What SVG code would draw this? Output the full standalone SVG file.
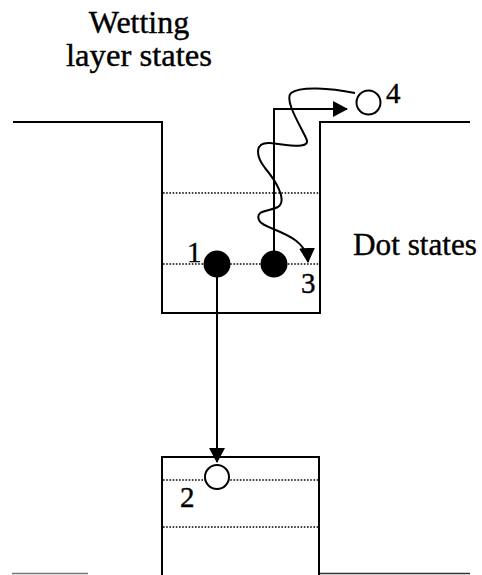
<svg xmlns="http://www.w3.org/2000/svg" width="482" height="575" viewBox="0 0 482 575">
<style>
.wall{fill:none;stroke:#000;stroke-width:2}
.lvl{stroke:#000;stroke-width:1.6;stroke-dasharray:1.6 1.6}
.t{font-family:"Liberation Serif","Times New Roman","DejaVu Serif",serif;font-size:29px;fill:#000;stroke:#000;stroke-width:0.4}
.big{font-size:32px}
.full{fill:#000}
.empty{fill:#fff;stroke:#000;stroke-width:2}
.conn{fill:none;stroke:#000;stroke-width:2}
</style>
<defs>
<marker id="ah" viewBox="0 0 15 16" refX="14" refY="8" markerWidth="15" markerHeight="16" markerUnits="userSpaceOnUse" orient="auto">
<path d="M0,0 L15,8 L0,16 z" fill="#000"/>
</marker>
</defs>
<rect width="482" height="575" fill="#fff"/>
<g id="top-well">
<polyline class="wall" points="13,122 162,122 162,313 320,313 320,122 470,122"/>
<line class="lvl" x1="163" y1="193" x2="319" y2="193"/>
<line class="lvl" x1="163" y1="264" x2="319" y2="264"/>
</g>
<g id="bottom-well">
<polyline class="wall" points="162,575 162,457 319,457 319,575"/>
<line class="lvl" x1="163" y1="480" x2="318" y2="480"/>
<line class="lvl" x1="163" y1="527" x2="318" y2="527"/>
<line x1="12" y1="573.5" x2="88" y2="573.5" stroke="#777" stroke-width="1.5"/>
<line x1="320" y1="573.5" x2="470" y2="573.5" stroke="#333" stroke-width="1.5"/>
</g>
<g id="labels">
<text class="t big" x="139" y="33" text-anchor="middle">Wetting</text>
<text class="t big" x="139" y="66" text-anchor="middle" textLength="146" lengthAdjust="spacingAndGlyphs">layer states</text>
<text class="t big" x="353" y="255" textLength="124" lengthAdjust="spacingAndGlyphs">Dot states</text>
</g>
<g id="connectors">
<line class="conn" x1="217" y1="264" x2="217" y2="462" marker-end="url(#ah)"/>
<polyline class="conn" points="274,264 274,109 347,109" marker-end="url(#ah)"/>
<path class="conn" d="M355,93 C330,88 300,86 291,93 C284,100 300,125 306,138 C312,150 290,145 270,143 C255,142 255,155 265,168 C275,180 288,200 278,207 C268,212 255,210 259,220 C262,230 306,232 308,262" marker-end="url(#ah)"/>
</g>
<g id="state1">
<circle class="full" cx="217" cy="264" r="13.5"/>
<text class="t" x="187" y="262">1</text>
</g>
<g id="state-dot">
<circle class="full" cx="274" cy="264" r="13.5"/>
</g>
<g id="state3">
<text class="t" x="301" y="293">3</text>
</g>
<g id="state2">
<circle class="empty" cx="217" cy="477" r="12"/>
<text class="t" x="180" y="507">2</text>
</g>
<g id="state4">
<circle class="empty" cx="368.5" cy="102.5" r="12"/>
<text class="t" x="386" y="103">4</text>
</g>
</svg>
